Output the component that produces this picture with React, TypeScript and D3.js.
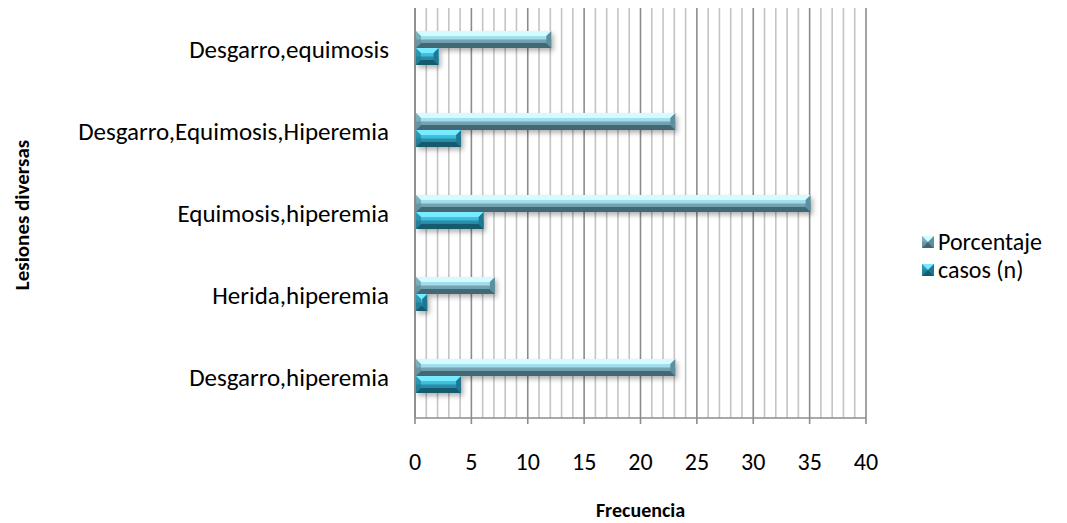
import * as d3 from "d3";

const categories = [
  "Desgarro,equimosis",
  "Desgarro,Equimosis,Hiperemia",
  "Equimosis,hiperemia",
  "Herida,hiperemia",
  "Desgarro,hiperemia",
];
const porcentaje = [12, 23, 35, 7, 23];
const casos = [2, 4, 6, 1, 4];
const seriesNames = ["Porcentaje", "casos (n)"];
const xTicks = [0, 5, 10, 15, 20, 25, 30, 35, 40];

const W = 1067;
const H = 523;
const margin = { top: 8, right: 201, bottom: 105, left: 415 };
const FONT = "Carlito, Calibri, Lato, 'Open Sans', sans-serif";

// bevel colours per series: top edge, face stops, bottom edge, sides
const palette = [
  { top: "#d4fbff", f1: "#aee9f6", f2: "#9fdcec", f3: "#74a3b2", f4: "#6a97a6", bottom: "#3f6775", side: "#5f8e9c" },
  { top: "#79eaff", f1: "#4fd2ee", f2: "#3bbcdc", f3: "#2a8eaa", f4: "#247f9a", bottom: "#145a6e", side: "#1f7893" },
];

function Bevel({ x, y, w, h, b, s }: { x: number; y: number; w: number; h: number; b: number; s: number }) {
  const c = palette[s];
  const bb = Math.min(b, w / 2, h / 2);
  const p = (pts: number[][]) => pts.map((q) => q.join(",")).join(" ");
  return (
    <g>
      <rect x={x} y={y} width={w} height={h} fill={`url(#face${s})`} />
      <polygon points={p([[x, y], [x + w, y], [x + w - bb, y + bb], [x + bb, y + bb]])} fill={c.top} />
      <polygon points={p([[x, y + h], [x + w, y + h], [x + w - bb, y + h - bb], [x + bb, y + h - bb]])} fill={c.bottom} />
      <polygon points={p([[x, y], [x + bb, y + bb], [x + bb, y + h - bb], [x, y + h]])} fill={c.side} opacity={0.6} />
      <polygon points={p([[x + w, y], [x + w - bb, y + bb], [x + w - bb, y + h - bb], [x + w, y + h]])} fill={c.side} />
    </g>
  );
}

export default function App() {
  const innerW = W - margin.left - margin.right;
  const innerH = H - margin.top - margin.bottom;

  const x = d3.scaleLinear().domain([0, 40]).range([0, innerW]);
  const y = d3.scaleBand<string>().domain(categories).range([0, innerH]).padding(0);
  const barH = 17;
  const sub = d3
    .scaleBand<string>()
    .domain(seriesNames)
    .range([y.bandwidth() / 2 - barH - 1, y.bandwidth() / 2 + barH - 1])
    .padding(0);

  const minor = d3.range(0, 41, 1);
  const values = [porcentaje, casos];

  return (
    <svg width={W} height={H} style={{ position: "absolute", left: 0, top: 0, background: "#fff" }} fontFamily={FONT}>
      <defs>
        {palette.map((c, i) => (
          <linearGradient key={i} id={`face${i}`} x1="0" y1="0" x2="0" y2="1">
            <stop offset="0" stopColor={c.f1} />
            <stop offset="0.45" stopColor={c.f2} />
            <stop offset="0.55" stopColor={c.f3} />
            <stop offset="1" stopColor={c.f4} />
          </linearGradient>
        ))}
        <filter id="shadow" x="-10%" y="-50%" width="130%" height="250%">
          <feDropShadow dx="2" dy="3" stdDeviation="2.5" floodColor="#000" floodOpacity="0.3" />
        </filter>
      </defs>

      <g transform={`translate(${margin.left},${margin.top})`}>
        {/* vertical grid */}
        {minor.map((v) => (
          <line
            key={v}
            x1={x(v)}
            x2={x(v)}
            y1={0}
            y2={innerH}
            stroke={v % 5 === 0 ? "#8c8c8c" : "#c4c4c4"}
            strokeWidth={1.6}
          />
        ))}
        {/* axes */}
        <line x1={0} x2={innerW} y1={innerH} y2={innerH} stroke="#8c8c8c" strokeWidth={1.6} />
        <line x1={0} x2={0} y1={0} y2={innerH} stroke="#8c8c8c" strokeWidth={1.6} />
        {xTicks.map((t) => (
          <g key={t} transform={`translate(${x(t)},0)`}>
            <line y1={innerH} y2={innerH + 6} stroke="#8c8c8c" strokeWidth={1.6} />
            <text y={innerH + 52} textAnchor="middle" fontSize={24} fill="#000">
              {t}
            </text>
          </g>
        ))}

        {/* bars */}
        {categories.map((cat, i) => (
          <g key={cat} transform={`translate(0,${y(cat)})`} filter="url(#shadow)">
            {seriesNames.map((s, si) => (
              <Bevel
                key={s}
                x={x(0) + 1}
                y={sub(s)!}
                w={x(values[si][i]) - x(0)}
                h={sub.bandwidth()}
                b={5}
                s={si}
              />
            ))}
          </g>
        ))}

        {/* category labels */}
        {categories.map((cat) => (
          <text
            key={cat}
            x={-26}
            y={y(cat)! + y.bandwidth() / 2}
            dy="0.35em"
            textAnchor="end"
            fontSize={25}
            fill="#000"
          >
            {cat}
          </text>
        ))}
      </g>

      {/* axis titles */}
      <text x={margin.left + innerW / 2} y={517} textAnchor="middle" fontSize={20} fontWeight="bold">
        Frecuencia
      </text>
      <text transform="translate(29,215) rotate(-90)" textAnchor="middle" fontSize={21} fontWeight="bold">
        Lesiones diversas
      </text>

      {/* legend */}
      {seriesNames.map((s, si) => (
        <g key={s} transform={`translate(922,${236 + si * 28})`}>
          <Bevel x={0} y={0} w={12} h={12} b={6} s={si} />
          <text x={16} y={6} dy="0.35em" fontSize={24}>
            {s}
          </text>
        </g>
      ))}
    </svg>
  );
}
